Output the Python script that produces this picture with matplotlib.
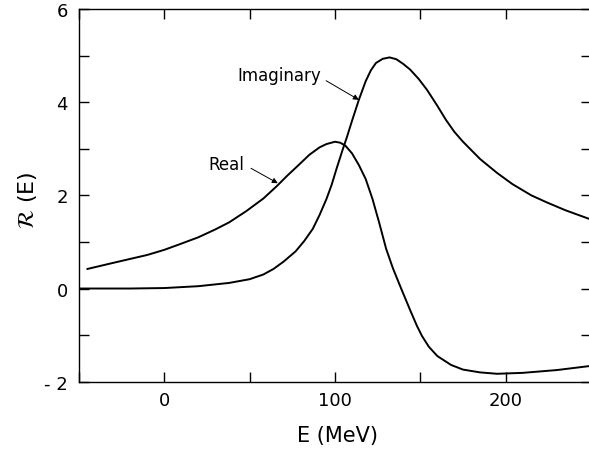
import numpy as np
import matplotlib
matplotlib.use("Agg")
import matplotlib.pyplot as plt
from matplotlib.ticker import MultipleLocator, FixedLocator, FixedFormatter

plt.rcParams['mathtext.fontset'] = 'stix'

# Real part
E_real = [-45, -30, -10, 0, 9, 20, 30, 38, 48, 58, 66, 72, 79, 85, 91, 95, 100, 103, 106, 110,
          114, 118, 122, 126, 130, 134, 139, 144, 148, 151, 155, 160, 168, 175, 185, 195, 210, 230, 250]
R_real = [0.42, 0.55, 0.72, 0.83, 0.95, 1.1, 1.27, 1.42, 1.66, 1.93, 2.2, 2.42, 2.66, 2.87, 3.03,
          3.1, 3.15, 3.13, 3.07, 2.9, 2.65, 2.35, 1.92, 1.4, 0.85, 0.43, -0.02, -0.46, -0.8, -1.02,
          -1.25, -1.45, -1.64, -1.74, -1.80, -1.83, -1.81, -1.75, -1.66]

# Imaginary part
E_imag = [-50, -20, 0, 20, 38, 50, 58, 64, 70, 77, 82, 87, 91, 95, 98, 101, 104.6, 107, 110, 114,
          118, 121, 124, 128, 132, 136, 140, 144, 149, 154, 160, 165, 170, 175, 185, 195, 204, 215,
          224, 235, 250]
R_imag = [0.0, 0.0, 0.01, 0.05, 0.12, 0.2, 0.3, 0.42, 0.58, 0.8, 1.02, 1.28, 1.58, 1.92, 2.22,
          2.58, 2.99, 3.25, 3.6, 4.05, 4.45, 4.68, 4.84, 4.93, 4.96, 4.92, 4.82, 4.7, 4.5, 4.26,
          3.92, 3.62, 3.36, 3.15, 2.78, 2.48, 2.24, 2.0, 1.85, 1.68, 1.48]

xticks = [0, 100, 200]
xticklabels = ["0", "100", "200"]
yticks = [-2, 0, 2, 4, 6]
yticklabels = ["- 2", "0", "2", "4", "6"]

fig = plt.figure(figsize=(5.89, 4.52), dpi=100)
ax = fig.add_axes([0.134, 0.1533, 0.8694, 0.8247])

ax.plot(E_real, R_real, color="black", lw=1.4)
ax.plot(E_imag, R_imag, color="black", lw=1.4)

ax.set_xlim(-50, 250)
ax.set_ylim(-2, 6)

ax.xaxis.set_major_locator(FixedLocator(xticks))
ax.xaxis.set_major_formatter(FixedFormatter(xticklabels))
ax.xaxis.set_minor_locator(MultipleLocator(50))
ax.yaxis.set_major_locator(FixedLocator(yticks))
ax.yaxis.set_major_formatter(FixedFormatter(yticklabels))
ax.yaxis.set_minor_locator(MultipleLocator(1))

ax.tick_params(which="both", direction="in", length=7.5, width=1.0,
               top=True, right=True, labelsize=13)
ax.tick_params(axis="x", which="major", pad=7)
ax.tick_params(axis="y", which="major", pad=8)
for s in ax.spines.values():
    s.set_linewidth(1.0)

ax.set_xlabel("E (MeV)", fontsize=15)
ax.xaxis.set_label_coords(0.505, -0.115)
ax.set_ylabel(r"$\mathcal{R}$ (E)", fontsize=16)
ax.yaxis.set_label_coords(-0.078, 0.49)

# labels with arrows
ax.text(47, 2.67, "Real", fontsize=12, ha="right", va="center")
ax.annotate("", xy=(66.5, 2.26), xytext=(50.8, 2.58),
            arrowprops=dict(arrowstyle="-|>", lw=0.7, color="black", mutation_scale=8,
                            shrinkA=0, shrinkB=0))
ax.text(92, 4.58, "Imaginary", fontsize=12, ha="right", va="center")
ax.annotate("", xy=(114, 4.05), xytext=(94.8, 4.46),
            arrowprops=dict(arrowstyle="-|>", lw=0.7, color="black", mutation_scale=8,
                            shrinkA=0, shrinkB=0))

fig.savefig("out.png", dpi=100)
